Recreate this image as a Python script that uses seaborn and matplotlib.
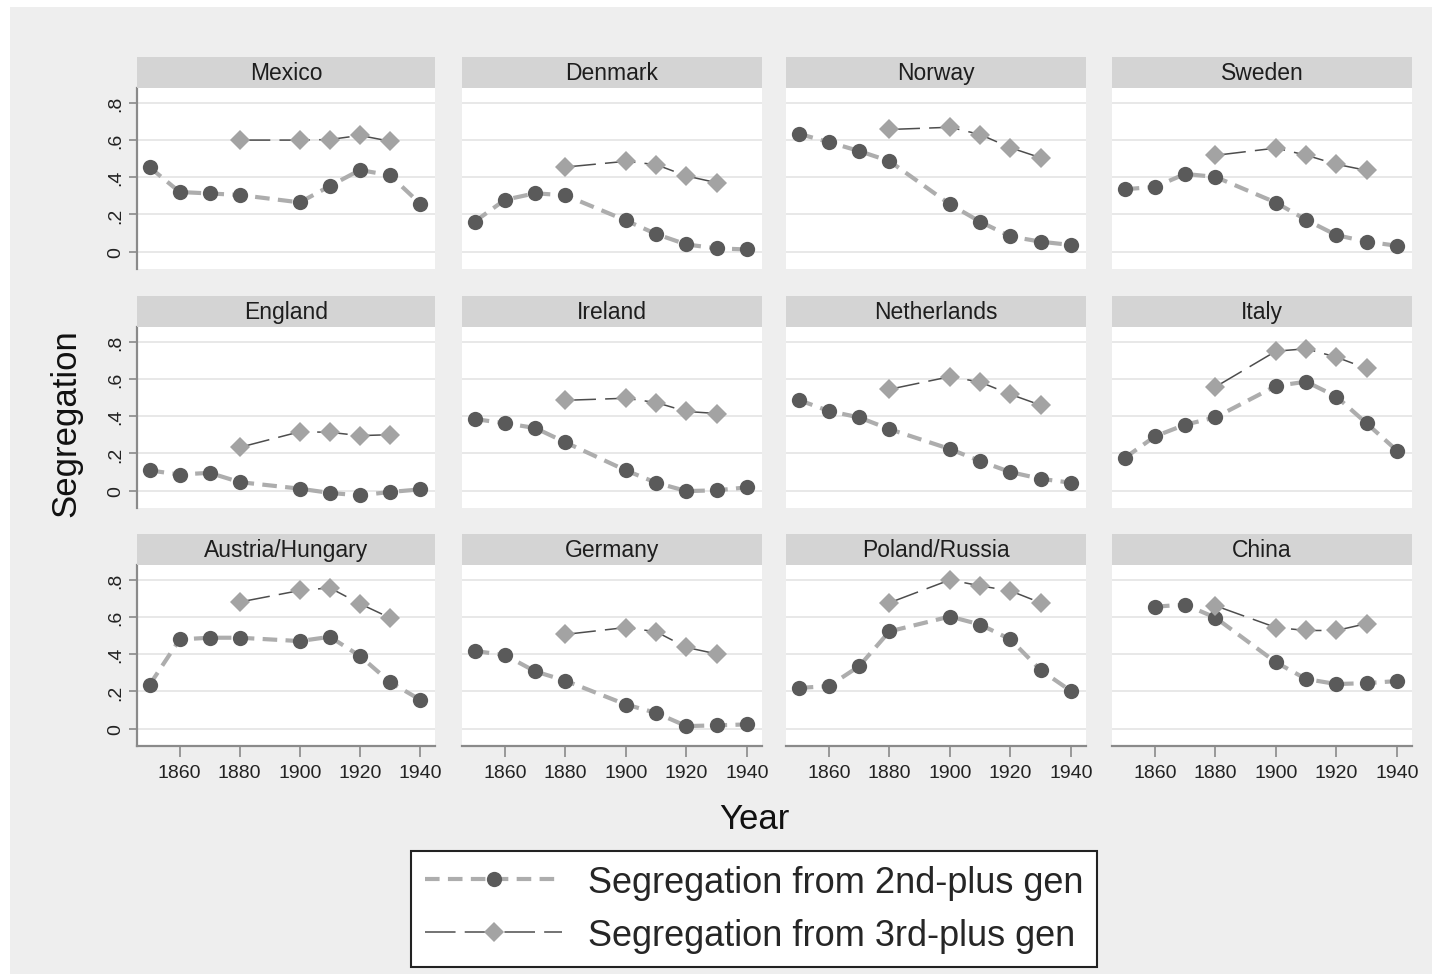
import numpy as np
import pandas as pd
import matplotlib
matplotlib.use("Agg")
import matplotlib.pyplot as plt
import seaborn as sns
from matplotlib.patches import Rectangle
from matplotlib.lines import Line2D

# ---------------- data ----------------
countries = ["Mexico", "Denmark", "Norway", "Sweden",
             "England", "Ireland", "Netherlands", "Italy",
             "Austria/Hungary", "Germany", "Poland/Russia", "China"]

years_2nd = [1850, 1860, 1870, 1880, 1900, 1910, 1920, 1930, 1940]
years_3rd = [1880, 1900, 1910, 1920, 1930]

mexico_2nd = [0.454, 0.321, 0.313, 0.305, 0.265, 0.353, 0.439, 0.411, 0.259]
mexico_3rd = [0.600, 0.600, 0.603, 0.625, 0.594]
denmark_2nd = [0.162, 0.279, 0.314, 0.303, 0.168, 0.095, 0.039, 0.018, 0.012]
denmark_3rd = [0.455, 0.486, 0.468, 0.407, 0.371]
norway_2nd = [0.634, 0.589, 0.541, 0.487, 0.255, 0.161, 0.082, 0.054, 0.036]
norway_3rd = [0.657, 0.669, 0.630, 0.559, 0.505]
sweden_2nd = [0.336, 0.348, 0.418, 0.402, 0.264, 0.171, 0.089, 0.054, 0.032]
sweden_3rd = [0.518, 0.557, 0.519, 0.470, 0.437]
england_2nd = [0.109, 0.087, 0.096, 0.046, 0.011, -0.012, -0.025, -0.007, 0.007]
england_3rd = [0.233, 0.317, 0.314, 0.296, 0.301]
ireland_2nd = [0.385, 0.363, 0.337, 0.260, 0.109, 0.043, -0.002, 0.002, 0.018]
ireland_3rd = [0.486, 0.497, 0.474, 0.426, 0.415]
netherlands_2nd = [0.488, 0.428, 0.394, 0.331, 0.224, 0.159, 0.100, 0.064, 0.043]
netherlands_3rd = [0.545, 0.613, 0.584, 0.518, 0.460]
italy_2nd = [0.176, 0.292, 0.355, 0.394, 0.563, 0.586, 0.506, 0.362, 0.216]
italy_3rd = [0.558, 0.750, 0.763, 0.718, 0.657]
austria_2nd = [0.236, 0.480, 0.489, 0.489, 0.471, 0.494, 0.391, 0.251, 0.156]
austria_3rd = [0.681, 0.743, 0.757, 0.672, 0.596]
germany_2nd = [0.418, 0.396, 0.308, 0.258, 0.130, 0.085, 0.014, 0.018, 0.023]
germany_3rd = [0.507, 0.544, 0.521, 0.437, 0.402]
poland_2nd = [0.219, 0.229, 0.336, 0.523, 0.603, 0.560, 0.480, 0.315, 0.203]
poland_3rd = [0.677, 0.800, 0.768, 0.741, 0.677]
china_2nd = [np.nan, 0.656, 0.667, 0.597, 0.357, 0.267, 0.240, 0.245, 0.256]
china_3rd = [0.661, 0.544, 0.528, 0.528, 0.565]

y_ticks = [0, 0.2, 0.4, 0.6, 0.8]
y_ticklabels = ["0", ".2", ".4", ".6", ".8"]
x_ticks = [1860, 1880, 1900, 1920, 1940]
x_ticklabels = ["1860", "1880", "1900", "1920", "1940"]

label_2nd = "Segregation from 2nd-plus gen"
label_3rd = "Segregation from 3rd-plus gen"

series_2nd = [mexico_2nd, denmark_2nd, norway_2nd, sweden_2nd,
              england_2nd, ireland_2nd, netherlands_2nd, italy_2nd,
              austria_2nd, germany_2nd, poland_2nd, china_2nd]
series_3rd = [mexico_3rd, denmark_3rd, norway_3rd, sweden_3rd,
              england_3rd, ireland_3rd, netherlands_3rd, italy_3rd,
              austria_3rd, germany_3rd, poland_3rd, china_3rd]

# ---------------- style ----------------
sns.set_theme(style="white")
plt.rcParams["font.family"] = ["Liberation Sans", "DejaVu Sans"]

W, H = 1439, 978
fig = plt.figure(figsize=(W / 100, H / 100), dpi=100, facecolor="white")
fig.add_artist(Rectangle((10 / W, 1 - 975 / H), (1432 - 10) / W, (975 - 8) / H,
                         transform=fig.transFigure, facecolor="#EEEEEE",
                         edgecolor="none", zorder=-10))

col_left = [137, 462, 786, 1112]
col_w = [298, 300, 300, 300]
row_top = [89, 328, 566]
ph = 181
strip_h = 31

line2_color = "#ADADAD"
mark2_color = "#5A5A5A"
line3_color = "#4D4D4D"
mark3_color = "#A3A3A3"
ls2 = (0, (3.5, 2.0))
ls3 = (0, (20, 6))

for i, country in enumerate(countries):
    r, k = divmod(i, 4)
    left, width = col_left[k], col_w[k]
    ax = fig.add_axes([left / W, 1 - (row_top[r] + ph) / H, width / W, ph / H])
    ax.set_facecolor("white")

    df2 = pd.DataFrame({"year": years_2nd, "value": series_2nd[i]})
    df3 = pd.DataFrame({"year": years_3rd, "value": series_3rd[i]})
    sns.lineplot(data=df2, x="year", y="value", ax=ax, color=line2_color,
                 linewidth=3.0, linestyle=ls2, marker="o", markersize=11,
                 markerfacecolor=mark2_color, markeredgecolor=mark2_color,
                 markeredgewidth=0, errorbar=None, zorder=3)
    sns.lineplot(data=df3, x="year", y="value", ax=ax, color=line3_color,
                 linewidth=1.1, linestyle=ls3, marker="D", markersize=10,
                 markerfacecolor=mark3_color, markeredgecolor=mark3_color,
                 markeredgewidth=0, errorbar=None, zorder=4)

    ax.set_xlim(1845.8, 1945.0)
    ax.set_ylim(-0.093, 0.88)
    ax.set_yticks(y_ticks)
    ax.set_xticks(x_ticks)
    ax.grid(axis="y", color="#E6E6E6", linewidth=1.3)
    ax.grid(axis="x", visible=False)
    ax.set_axisbelow(True)
    ax.set_xlabel("")
    ax.set_ylabel("")
    for s in ["top", "right"]:
        ax.spines[s].set_visible(False)

    if k == 0:
        ax.spines["left"].set_visible(True)
        ax.spines["left"].set_color("#8A8A8A")
        ax.spines["left"].set_linewidth(1.6)
        ax.set_yticklabels(y_ticklabels, rotation=90, va="center",
                           fontsize=14, color="#222222")
        ax.tick_params(axis="y", left=True, length=6, width=1.2,
                       color="#8A8A8A", pad=3)
    else:
        ax.spines["left"].set_visible(False)
        ax.tick_params(axis="y", left=False, labelleft=False)

    if r == 2:
        ax.spines["bottom"].set_visible(True)
        ax.spines["bottom"].set_color("#8A8A8A")
        ax.spines["bottom"].set_linewidth(1.6)
        ax.set_xticklabels(x_ticklabels, fontsize=14, color="#222222")
        ax.tick_params(axis="x", bottom=True, length=8, width=1.2,
                       color="#8A8A8A", pad=5)
    else:
        ax.spines["bottom"].set_visible(False)
        ax.tick_params(axis="x", bottom=False, labelbottom=False)

    # strip
    fig.add_artist(Rectangle((left / W, 1 - row_top[r] / H), width / W, strip_h / H,
                             transform=fig.transFigure, facecolor="#D4D4D4",
                             edgecolor="none", zorder=1))
    fig.text((left + width / 2) / W, 1 - (row_top[r] - strip_h / 2) / H, country,
             ha="center", va="center", fontsize=16.5, color="#1E1E1E")

fig.text(754 / W, 1 - 820 / H, "Year", ha="center", va="center",
         fontsize=25, color="#111111")
fig.text(66 / W, 1 - 423 / H, "Segregation", ha="center", va="center",
         rotation=90, fontsize=25, color="#111111")

handles = [
    Line2D([0], [0], color=line2_color, linewidth=3.0, linestyle=ls2,
           marker="o", markersize=11, markerfacecolor=mark2_color,
           markeredgecolor=mark2_color, markeredgewidth=0),
    Line2D([0], [0], color=line3_color, linewidth=1.1, linestyle=ls3,
           marker="D", markersize=10, markerfacecolor=mark3_color,
           markeredgecolor=mark3_color, markeredgewidth=0),
]
leg = fig.legend(handles, [label_2nd, label_3rd], loc="center",
                 bbox_to_anchor=(754 / W, 1 - 910 / H), fontsize=26,
                 frameon=True, fancybox=False, framealpha=1, facecolor="white",
                 edgecolor="#222222", handlelength=3.8, handletextpad=0.7,
                 labelspacing=0.5, borderpad=0.4, borderaxespad=0)
leg.get_frame().set_linewidth(1.5)

fig.savefig("out.png", dpi=100, facecolor=fig.get_facecolor())
